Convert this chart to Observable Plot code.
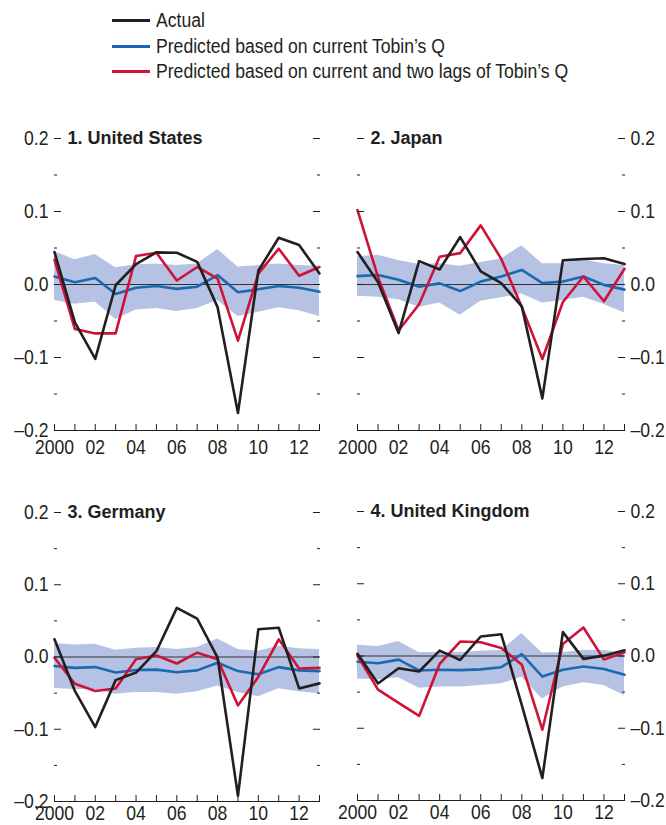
<!DOCTYPE html>
<html><head><meta charset="utf-8">
<script src="https://cdn.jsdelivr.net/npm/d3@7"></script>
<script src="https://cdn.jsdelivr.net/npm/@observablehq/plot@0.6"></script>
<style>
body{margin:0;background:#fff;}
#root{position:relative;width:666px;height:825px;overflow:hidden;font-family:"Liberation Sans",Arial,sans-serif;color:#231f20;}
.panel{position:absolute;}
.leg{position:absolute;left:112px;height:20px;white-space:nowrap;}
.leg .sw{position:absolute;left:0;top:9px;width:38px;height:2.5px;}
.leg .tx{position:absolute;left:44px;top:0;font-size:20px;line-height:20px;transform:scaleX(0.88);transform-origin:0 50%;}
</style></head>
<body><div id="root"></div>
<script>
const years = [2000,2001,2002,2003,2004,2005,2006,2007,2008,2009,2010,2011,2012,2013];
const labelYears = [2000,2002,2004,2006,2008,2010,2012];
const majorTicks = [0.2,0.1,0,-0.1,-0.2];
const minorTicks = [0.15,0.05,-0.05,-0.15];
const seriesNames = ["Actual","Predicted based on current Tobin\u2019s Q","Predicted based on current and two lags of Tobin\u2019s Q"];
const titles = ["1. United States","2. Japan","3. Germany","4. United Kingdom"];

const usActual  = [0.0445,-0.052,-0.102,-0.001,0.028,0.044,0.0435,0.031,-0.031,-0.176,0.019,0.064,0.054,0.015];
const usCurrent = [0.011,0.003,0.009,-0.013,-0.0045,-0.002,-0.006,-0.003,0.013,-0.0105,-0.0065,-0.002,-0.0045,-0.010];
const usLags    = [0.034,-0.061,-0.067,-0.067,0.039,0.0435,0.0055,0.024,0.008,-0.077,0.015,0.049,0.012,0.024];
const usUpper   = [0.045,0.034,0.041,0.023,0.027,0.028,0.026,0.028,0.048,0.024,0.026,0.028,0.026,0.025];
const usLower   = [-0.022,-0.027,-0.024,-0.048,-0.035,-0.033,-0.037,-0.033,-0.022,-0.044,-0.038,-0.032,-0.036,-0.044];

const jpActual  = [0.0445,0.003,-0.0665,0.032,0.0205,0.065,0.018,0.002,-0.030,-0.156,0.033,0.035,0.036,0.028];
const jpCurrent = [0.0115,0.013,0.0065,-0.003,0.0015,-0.009,0.004,0.011,0.020,0.002,0.004,0.011,-0.0005,-0.007];
const jpLags    = [0.102,0.010,-0.063,-0.027,0.038,0.043,0.081,0.035,-0.031,-0.102,-0.024,0.011,-0.023,0.0215];
const jpUpper   = [0.038,0.040,0.033,0.0275,0.0285,0.025,0.030,0.035,0.053,0.0285,0.0285,0.034,0.0285,0.026];
const jpLower   = [-0.016,-0.0175,-0.021,-0.031,-0.0255,-0.042,-0.023,-0.018,-0.013,-0.0255,-0.022,-0.0175,-0.0275,-0.039];

const deActual  = [0.0245,-0.047,-0.097,-0.032,-0.0215,0.008,0.068,0.053,-0.001,-0.192,0.0385,0.0405,-0.0435,-0.0365];
const deCurrent = [-0.0125,-0.015,-0.014,-0.0215,-0.018,-0.0175,-0.021,-0.0185,-0.008,-0.0195,-0.024,-0.014,-0.0185,-0.0195];
const deLags    = [-0.001,-0.037,-0.047,-0.0435,-0.003,0.002,-0.009,0.006,-0.003,-0.067,-0.0275,0.0245,-0.016,-0.015];
const deUpper   = [0.0185,0.0165,0.0175,0.0095,0.012,0.013,0.0105,0.013,0.025,0.0105,0.008,0.015,0.0115,0.0105];
const deLower   = [-0.0435,-0.045,-0.045,-0.0515,-0.049,-0.049,-0.0515,-0.048,-0.040,-0.049,-0.055,-0.044,-0.048,-0.051];

const ukActual  = [0.003,-0.038,-0.017,-0.0215,0.0075,-0.0055,0.027,0.030,-0.068,-0.169,0.033,-0.004,0.0005,0.008];
const ukCurrent = [-0.008,-0.010,-0.005,-0.020,-0.019,-0.0195,-0.0185,-0.0155,0.0025,-0.0285,-0.019,-0.0145,-0.018,-0.026];
const ukLags    = [0.0005,-0.0465,-0.065,-0.083,-0.011,0.020,0.019,0.011,-0.012,-0.102,0.0165,0.0395,-0.005,0.005];
const ukUpper   = [0.015,0.013,0.020,0.005,0.005,0.005,0.0065,0.0075,0.031,0.004,0.005,0.0075,0.0075,0.0035];
const ukLower   = [-0.032,-0.033,-0.030,-0.0445,-0.043,-0.043,-0.041,-0.0385,-0.0295,-0.0595,-0.043,-0.037,-0.041,-0.055];

const colors = {actual:"#231f20", current:"#1a69b2", lags:"#cf1237", band:"#b5c2e3", zero:"#333"};
const FONT = '"Liberation Sans",Arial,sans-serif';

const root = document.getElementById("root");

// legend
const legColors = [colors.actual, colors.current, colors.lags];
const legTops = [10, 36, 61];
seriesNames.forEach((n,i)=>{
  const d = document.createElement("div");
  d.className = "leg";
  d.style.top = legTops[i] + "px";
  d.innerHTML = `<span class="sw" style="background:${legColors[i]}"></span><span class="tx">${n}</span>`;
  root.appendChild(d);
});

const fmtY = d => d === 0 ? "0.0" : (d < 0 ? "\u2013" : "") + Math.abs(d).toFixed(1);
const fmtX = d => d === 2000 ? "2000" : String(d % 100).padStart(2, "0");

const panels = [
  {title:titles[0], side:"left",  actual:usActual, current:usCurrent, lags:usLags, upper:usUpper, lower:usLower, left:0,   top:100, mt:38, mb:30, h:360, pad:9},
  {title:titles[1], side:"right", actual:jpActual, current:jpCurrent, lags:jpLags, upper:jpUpper, lower:jpLower, left:333, top:100, mt:38, mb:30, h:360, pad:9},
  {title:titles[2], side:"left",  actual:deActual, current:deCurrent, lags:deLags, upper:deUpper, lower:deLower, left:0,   top:472, mt:40, mb:24, h:353, pad:4},
  {title:titles[3], side:"right", actual:ukActual, current:ukCurrent, lags:ukLags, upper:ukUpper, lower:ukLower, left:333, top:472, mt:39, mb:25, h:353, pad:4}
];

panels.forEach(p => {
  const rows = years.map((yr,i)=>({year:yr, actual:p.actual[i], current:p.current[i], lags:p.lags[i], lo:p.lower[i], hi:p.upper[i]}));
  const isLeft = p.side === "left";
  const chart = Plot.plot({
    width: 333, height: p.h,
    marginTop: p.mt, marginBottom: p.mb,
    marginLeft: isLeft ? 54 : 24, marginRight: isLeft ? 14 : 42,
    x: {domain:[2000,2013]},
    y: {domain:[-0.2,0.2]},
    style: {fontFamily: FONT, fontSize: "20px", color: "#231f20", background: "transparent", overflow: "visible"},
    marks: [
      Plot.areaY(rows, {x:"year", y1:"lo", y2:"hi", fill:colors.band}),
      Plot.ruleY([0], {stroke:colors.zero, strokeWidth:1}),
      Plot.lineY(rows, {x:"year", y:"current", stroke:colors.current, strokeWidth:2.6}),
      Plot.lineY(rows, {x:"year", y:"lags", stroke:colors.lags, strokeWidth:2.6}),
      Plot.lineY(rows, {x:"year", y:"actual", stroke:colors.actual, strokeWidth:2.6}),
      Plot.ruleY([-0.2], {stroke:"#231f20", strokeWidth:1.2}),
      Plot.axisX(years, {anchor:"bottom", tickSize:-6, tickFormat:()=>"", label:null}),
      Plot.axisX(labelYears, {anchor:"bottom", tickSize:0, tickPadding:p.pad, tickFormat:fmtX, fontSize:20, label:null}),
      Plot.axisY(majorTicks, {anchor:p.side, tickSize:0, tickPadding:6, tickFormat:fmtY, fontSize:20, label:null}),
      Plot.axisY(majorTicks, {anchor:"left", tickSize:-7, tickFormat:()=>"", label:null}),
      Plot.axisY(majorTicks, {anchor:"right", tickSize:-7, tickFormat:()=>"", label:null}),
      Plot.axisY(minorTicks, {anchor:"left", tickSize:-3, tickFormat:()=>"", label:null}),
      Plot.axisY(minorTicks, {anchor:"right", tickSize:-3, tickFormat:()=>"", label:null}),
      Plot.text([p.title], {text:d=>d, frameAnchor:"top-left", dx:13, textAnchor:"start", lineAnchor:"middle", fontWeight:"bold", fontSize:18, fill:"#231f20"})
    ]
  });
  // condensed look for tick labels
  d3.select(chart).selectAll('g[aria-label="x-axis tick label"] text, g[aria-label="y-axis tick label"] text')
    .attr("transform", function(){ return (this.getAttribute("transform") || "") + " scale(0.88,1)"; });
  chart.classList.add("panel");
  chart.style.left = p.left + "px";
  chart.style.top = p.top + "px";
  root.appendChild(chart);
});
</script>
</body></html>
